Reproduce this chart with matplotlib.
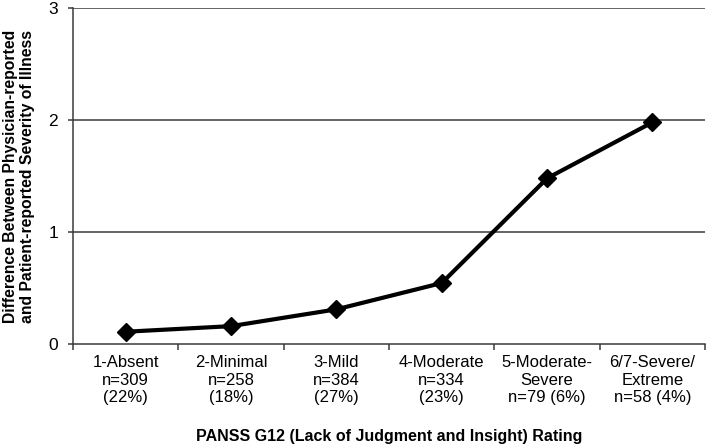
import matplotlib
matplotlib.use("Agg")
import matplotlib.pyplot as plt
import numpy as np

plt.rcParams['font.family'] = ['Liberation Sans', 'DejaVu Sans']

# data
categories = ['1-Absent\nn=309\n(22%)', '2-Minimal\nn=258\n(18%)', '3-Mild\nn=384\n(27%)',
              '4-Moderate\nn=334\n(23%)', '5-Moderate-\nSevere\nn=79 (6%)', '6/7-Severe/\nExtreme\nn=58 (4%)']
difference = [0.11, 0.16, 0.31, 0.545, 1.48, 1.98]
y_ticks = [0, 1, 2, 3]

fig = plt.figure(figsize=(7.08, 4.48), dpi=100)
ax = fig.add_axes([0.103, 0.232, 0.893, 0.75])

x = np.arange(len(categories))
grid_col = '#3a3a3a'

for yv in y_ticks[1:]:
    ax.axhline(yv, color=grid_col, linewidth=1.1, zorder=1)

ax.plot(x, difference, color='black', linewidth=3, marker='D', markersize=9,
        markerfacecolor='black', markeredgecolor='black', zorder=3)

ax.set_xlim(-0.5, len(categories) - 0.5)
ax.set_ylim(0, 3)

ax.set_yticks(y_ticks)
ax.set_yticklabels([str(v) for v in y_ticks], fontsize=12.5)
ax.tick_params(axis='y', length=3.6, width=1.1, color=grid_col, pad=7)

ax.set_xticks(x)
ax.set_xticklabels(categories, fontsize=12, linespacing=1.2)
ax.tick_params(axis='x', which='major', length=0, pad=8)
ax.set_xticks(np.arange(-0.5, len(categories)), minor=True)
ax.tick_params(axis='x', which='minor', length=4, width=1.1, color=grid_col)

for s in ['top', 'right']:
    ax.spines[s].set_visible(False)
for s in ['left', 'bottom']:
    ax.spines[s].set_color(grid_col)
    ax.spines[s].set_linewidth(1.1)

ax.set_xlabel('PANSS G12 (Lack of Judgment and Insight) Rating', fontsize=11.5,
              fontweight='bold', labelpad=17)
ax.set_ylabel('Difference Between Physician-reported\nand Patient-reported Severity of Illness',
              fontsize=11.3, fontweight='bold', labelpad=10, linespacing=1.15)

fig.savefig('out.png', dpi=100)
